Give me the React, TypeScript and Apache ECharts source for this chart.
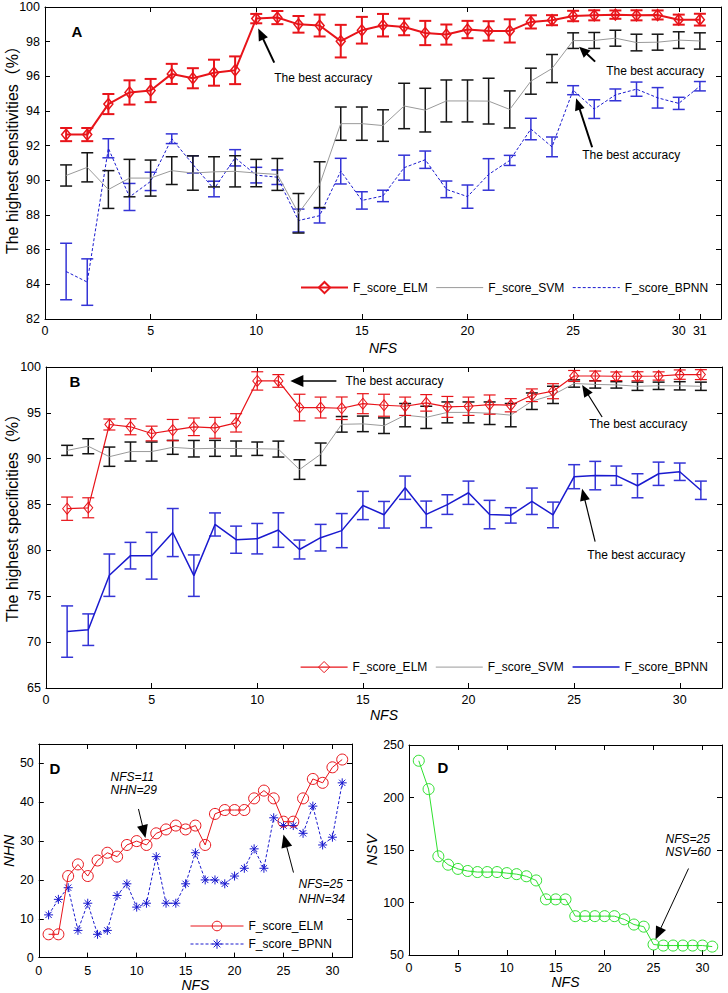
import React, { useEffect, useRef } from "react";
import * as echarts from "echarts";

const NFS = [1, 2, 3, 4, 5, 6, 7, 8, 9, 10, 11, 12, 13, 14, 15, 16, 17, 18, 19, 20, 21, 22, 23, 24, 25, 26, 27, 28, 29, 30, 31];

// Panel A: highest sensitivities (%)
const A_ELM = [92.64, 92.64, 94.4, 95.07, 95.18, 96.14, 95.89, 96.21, 96.35, 99.33, 99.39, 99.0, 98.93, 98.03, 98.66, 98.95, 98.85, 98.5, 98.41, 98.7, 98.62, 98.62, 99.14, 99.24, 99.48, 99.52, 99.56, 99.52, 99.54, 99.27, 99.27];
const A_ELM_ERR = [0.38, 0.38, 0.58, 0.7, 0.67, 0.58, 0.58, 0.75, 0.8, 0.27, 0.38, 0.48, 0.63, 0.94, 0.77, 0.65, 0.48, 0.7, 0.58, 0.5, 0.56, 0.67, 0.38, 0.29, 0.3, 0.29, 0.24, 0.29, 0.26, 0.29, 0.34];
const A_SVM = [90.28, 90.75, 89.47, 90.13, 90.13, 90.56, 90.42, 90.49, 90.52, 90.42, 90.34, 88.1, 89.75, 93.27, 93.27, 93.16, 94.29, 94.05, 94.58, 94.58, 94.57, 94.09, 95.72, 96.45, 98.06, 98.07, 98.2, 97.95, 97.97, 98.09, 98.04];
const A_SVM_ERR = [0.61, 0.84, 1.09, 1.08, 1.04, 0.8, 0.99, 0.87, 0.9, 0.79, 0.92, 1.14, 1.32, 0.96, 0.96, 0.91, 1.31, 1.26, 1.21, 1.21, 1.32, 1.07, 0.75, 0.81, 0.45, 0.46, 0.46, 0.48, 0.46, 0.48, 0.47];
const A_BPNN = [84.74, 84.13, 91.85, 89.04, 89.94, 92.4, 90.92, 89.5, 91.3, 90.3, 90.18, 87.68, 87.96, 90.53, 88.84, 89.1, 90.73, 91.19, 89.48, 89.06, 90.34, 91.15, 92.96, 91.93, 95.2, 94.11, 94.93, 95.26, 94.76, 94.44, 95.43];
const A_BPNN_ERR = [1.63, 1.34, 0.55, 0.78, 0.53, 0.28, 0.5, 0.45, 0.47, 0.45, 0.42, 0.66, 0.42, 0.74, 0.5, 0.33, 0.72, 0.5, 0.48, 0.67, 0.91, 0.29, 0.62, 0.57, 0.26, 0.54, 0.34, 0.41, 0.59, 0.35, 0.27];

// Panel B: highest specificities (%)
const B_ELM = [84.55, 84.65, 93.73, 93.48, 92.75, 93.12, 93.48, 93.37, 93.91, 98.48, 98.48, 95.58, 95.58, 95.5, 96.0, 95.83, 95.72, 96.09, 95.65, 95.72, 95.9, 95.83, 96.92, 97.36, 99.02, 99.02, 98.99, 98.99, 99.02, 99.17, 99.17];
const B_ELM_ERR = [1.27, 1.09, 0.6, 0.87, 0.8, 1.16, 0.96, 1.14, 1.0, 1.0, 0.69, 1.45, 1.14, 1.23, 1.09, 1.2, 1.0, 0.9, 1.14, 1.0, 1.05, 0.72, 0.69, 0.82, 0.6, 0.54, 0.47, 0.49, 0.45, 0.51, 0.54];
const B_SVM = [90.91, 91.36, 90.22, 90.78, 90.78, 91.24, 91.09, 91.13, 91.11, 91.09, 91.05, 88.82, 90.49, 93.75, 93.8, 93.6, 94.75, 94.51, 95.05, 95.05, 94.96, 94.75, 96.27, 96.96, 98.2, 98.1, 98.05, 97.9, 97.95, 97.95, 97.9];
const B_SVM_ERR = [0.55, 0.82, 1.05, 1.04, 1.04, 0.76, 0.9, 0.87, 0.82, 0.73, 0.87, 1.07, 1.22, 0.85, 0.85, 0.85, 1.27, 1.21, 1.14, 1.14, 1.23, 1.27, 0.9, 0.94, 0.4, 0.4, 0.35, 0.45, 0.4, 0.45, 0.45];
const B_BPNN = [71.15, 71.36, 77.3, 79.43, 79.42, 81.95, 77.25, 82.83, 81.17, 81.28, 82.22, 80.1, 81.39, 82.16, 84.9, 83.89, 86.84, 83.93, 85.0, 86.29, 83.91, 83.82, 85.36, 83.87, 88.04, 88.16, 88.15, 87.05, 88.36, 88.58, 86.56];
const B_BPNN_ERR = [2.8, 1.72, 2.31, 1.45, 2.55, 2.62, 2.26, 1.26, 1.48, 1.66, 1.88, 1.03, 1.45, 1.86, 1.54, 1.45, 1.27, 1.45, 1.07, 1.27, 1.55, 0.84, 1.44, 1.4, 1.31, 1.55, 1.05, 1.31, 1.27, 0.95, 1.0];

// Panel D (left): NHN, Panel D (right): NSV
const D_ELM_NHN = [6, 6, 21, 24, 21, 25, 27, 26, 29, 30, 29, 32, 33, 34, 33, 34, 29, 37, 38, 38, 38, 41, 43, 41, 35, 35, 41, 46, 45, 49, 51];
const D_BPNN_NHN = [11, 15, 18, 7, 14, 6, 7, 16, 19, 13, 14, 26, 14, 14, 19, 27, 20, 20, 19, 21, 23, 28, 23, 36, 34, 34, 32, 39, 29, 31, 45];
const D_NSV = [235, 208, 144, 136, 132, 130, 129, 129, 129, 128, 127, 125, 121, 103, 103, 103, 87, 87, 87, 87, 87, 84, 79, 77, 60, 59, 59, 59, 59, 59, 58];

// Tick labels
const X_TICKS_A = [0, 5, 10, 15, 20, 25, 30, 31];
const X_TICKS = [0, 5, 10, 15, 20, 25, 30];
const Y_TICKS_A = [82, 84, 86, 88, 90, 92, 94, 96, 98, 100];
const Y_TICKS_B = [65, 70, 75, 80, 85, 90, 95, 100];
const Y_TICKS_NHN = [0, 10, 20, 30, 40, 50];
const Y_TICKS_NSV = [50, 100, 150, 200, 250];

const RED = "#e8141a";
const BLUE = "#1a1acf";
const BLUE_BAR = "#3434d6";
const BLACK = "#151515";
const GRAY = "#9a9a9a";
const GREEN = "#2fe02f";
const FONT = "'Liberation Sans', Arial, 'Noto Sans CJK SC', sans-serif";
const CLEAR = "rgba(0,0,0,0)";
const STAR = "path://M5,0L5,10M0,5L10,5M1.5,1.5L8.5,8.5M1.5,8.5L8.5,1.5";

const GRIDS = [
  { left: 45, top: 7, width: 676, height: 312 },
  { left: 46, top: 367, width: 676, height: 321 },
  { left: 35, top: 744, width: 317, height: 214 },
  { left: 409, top: 745, width: 313, height: 210 },
];

const pairs = (ys: number[]) => NFS.map((x, i) => [x, ys[i]]);
const triples = (ys: number[], es: number[]) => NFS.map((x, i) => [x, ys[i], es[i]]);

function errorBars(name: string, gi: number, ys: number[], es: number[], color: string, width: number, z: number) {
  return {
    type: "custom",
    name,
    xAxisIndex: gi,
    yAxisIndex: gi,
    z,
    silent: true,
    data: triples(ys, es),
    encode: { x: 0, y: 1 },
    renderItem: (_p: any, api: any) => {
      const x = api.value(0);
      const y = api.value(1);
      const e = api.value(2);
      const t = api.coord([x, y + e]);
      const b = api.coord([x, y - e]);
      const hw = 6;
      const style = { stroke: color, lineWidth: width };
      return {
        type: "group",
        children: [
          { type: "line", shape: { x1: t[0], y1: t[1], x2: b[0], y2: b[1] }, style },
          { type: "line", shape: { x1: t[0] - hw, y1: t[1], x2: t[0] + hw, y2: t[1] }, style },
          { type: "line", shape: { x1: b[0] - hw, y1: b[1], x2: b[0] + hw, y2: b[1] }, style },
        ],
      };
    },
  };
}

function lineSeries(name: string, gi: number, ys: number[], o: any) {
  return {
    type: "line",
    name,
    xAxisIndex: gi,
    yAxisIndex: gi,
    data: pairs(ys),
    z: o.z,
    symbol: o.symbol || "none",
    symbolSize: o.symbolSize || 8,
    showSymbol: !!o.symbol,
    lineStyle: { color: o.color, width: o.width, type: o.type || "solid" },
    itemStyle: o.symbol
      ? { color: CLEAR, borderColor: o.markerColor || o.color, borderWidth: o.borderWidth || 1 }
      : { color: CLEAR, borderWidth: 0 },
    emphasis: { disabled: true },
  };
}

const axisCommon = {
  type: "value",
  axisLine: { show: true, onZero: false, lineStyle: { color: "#000", width: 1 } },
  splitLine: { show: false },
};

function xAxes(gi: number, ticks: number[], max: number, nameGap: number, labelMargin: number) {
  return [
    {
      ...axisCommon,
      gridIndex: gi,
      position: "bottom",
      min: 0,
      max,
      name: "NFS",
      nameLocation: "middle",
      nameGap,
      nameTextStyle: { fontStyle: "italic", fontSize: 14, fontFamily: FONT, color: "#000" },
      axisTick: { show: true, inside: true, length: 5, customValues: ticks, lineStyle: { color: "#000" } },
      axisLabel: { customValues: ticks, margin: labelMargin, color: "#000", fontSize: 12.5, fontFamily: FONT },
    },
    {
      ...axisCommon,
      gridIndex: gi,
      position: "top",
      min: 0,
      max,
      axisTick: { show: true, inside: true, length: 5, customValues: ticks, lineStyle: { color: "#000" } },
      axisLabel: { show: false },
    },
  ];
}

function yAxes(gi: number, ticks: number[], min: number, max: number, name: string, nameGap: number) {
  return [
    {
      ...axisCommon,
      gridIndex: gi,
      position: "left",
      min,
      max,
      name,
      nameLocation: "middle",
      nameGap,
      nameTextStyle: { fontStyle: "italic", fontSize: 15, fontFamily: FONT, color: "#000" },
      axisTick: { show: true, inside: true, length: 5, customValues: ticks, lineStyle: { color: "#000" } },
      axisLabel: { customValues: ticks, margin: 5, color: "#000", fontSize: 12.5, fontFamily: FONT },
    },
    {
      ...axisCommon,
      gridIndex: gi,
      position: "right",
      min,
      max,
      axisTick: { show: true, inside: true, length: 5, customValues: ticks, lineStyle: { color: "#000" } },
      axisLabel: { show: false },
    },
  ];
}

const legendText = (n: string) => n.split(":")[1];

function buildOption(): any {
  const xa = [
    xAxes(0, X_TICKS_A, 32, 22, 6),
    xAxes(1, X_TICKS, 32, 20, 6),
    xAxes(2, X_TICKS, 32, 18, 7),
    xAxes(3, X_TICKS, 32, 20, 7),
  ];
  const ya = [
    yAxes(0, Y_TICKS_A, 82, 100, "", 30),
    yAxes(1, Y_TICKS_B, 65, 100, "", 30),
    yAxes(2, Y_TICKS_NHN, 0, 55, "NHN", 17),
    yAxes(3, Y_TICKS_NSV, 50, 250, "NSV", 25),
  ];
  return {
    animation: false,
    backgroundColor: "#fff",
    grid: GRIDS,
    xAxis: [...xa.map((a) => a[0]), ...xa.map((a) => a[1])],
    yAxis: [...ya.map((a) => a[0]), ...ya.map((a) => a[1])],
    legend: [
      {
        left: 295, top: 276, itemWidth: 47, itemHeight: 14, itemGap: 8, selectedMode: false,
        formatter: legendText, textStyle: { fontSize: 12, fontFamily: FONT, color: "#000" },
        data: [
          { name: "A:F_score_ELM" },
          { name: "A:F_score_SVM", lineStyle: { width: 1 } },
          { name: "A:F_score_BPNN", lineStyle: { width: 1 } },
        ],
      },
      {
        left: 295, top: 656, itemWidth: 47, itemHeight: 14, itemGap: 8, selectedMode: false,
        formatter: legendText, textStyle: { fontSize: 12, fontFamily: FONT, color: "#000" },
        data: [
          { name: "B:F_score_ELM", lineStyle: { width: 1.2 }, itemStyle: { borderWidth: 1 } },
          { name: "B:F_score_SVM", lineStyle: { width: 1 } },
          { name: "B:F_score_BPNN", lineStyle: { width: 1.5 } },
        ],
      },
      {
        left: 185, top: 915, orient: "vertical", itemWidth: 53, itemHeight: 12, itemGap: 6, selectedMode: false,
        formatter: legendText, textStyle: { fontSize: 12, fontFamily: FONT, color: "#000" },
        data: [
          { name: "D:F_score_ELM", lineStyle: { width: 1 }, itemStyle: { borderWidth: 1 } },
          { name: "D:F_score_BPNN", lineStyle: { width: 1 }, itemStyle: { borderWidth: 1 } },
        ],
      },
    ],
    series: [
      // Panel A
      errorBars("errA_BPNN", 0, A_BPNN, A_BPNN_ERR, BLUE_BAR, 1.5, 2),
      lineSeries("A:F_score_BPNN", 0, A_BPNN, { color: BLUE, width: 1, type: [3, 2], z: 3 }),
      errorBars("errA_SVM", 0, A_SVM, A_SVM_ERR, BLACK, 1.5, 4),
      lineSeries("A:F_score_SVM", 0, A_SVM, { color: GRAY, width: 1, z: 4 }),
      lineSeries("A:F_score_ELM", 0, A_ELM, { color: RED, width: 2, symbol: "diamond", symbolSize: [9, 11], borderWidth: 1.5, z: 6 }),
      errorBars("errA_ELM", 0, A_ELM, A_ELM_ERR, RED, 2, 7),
      // Panel B
      errorBars("errB_BPNN", 1, B_BPNN, B_BPNN_ERR, BLUE_BAR, 1.5, 2),
      lineSeries("B:F_score_BPNN", 1, B_BPNN, { color: BLUE, width: 1.5, z: 3 }),
      errorBars("errB_SVM", 1, B_SVM, B_SVM_ERR, BLACK, 1.5, 4),
      lineSeries("B:F_score_SVM", 1, B_SVM, { color: GRAY, width: 1, z: 4 }),
      lineSeries("B:F_score_ELM", 1, B_ELM, { color: RED, width: 1.2, symbol: "diamond", symbolSize: [9, 11], borderWidth: 1, z: 6 }),
      errorBars("errB_ELM", 1, B_ELM, B_ELM_ERR, RED, 1.2, 7),
      // Panel D left
      lineSeries("D:F_score_ELM", 2, D_ELM_NHN, { color: RED, width: 1, symbol: "circle", symbolSize: 11, borderWidth: 1, z: 4 }),
      lineSeries("D:F_score_BPNN", 2, D_BPNN_NHN, { color: BLUE, width: 1, type: [3, 2], symbol: STAR, symbolSize: 9, borderWidth: 1, z: 3 }),
      // Panel D right
      lineSeries("D:NSV", 3, D_NSV, { color: GREEN, width: 1, symbol: "circle", symbolSize: 11, borderWidth: 1, z: 3 }),
    ],
  };
}

// Annotation arrows, positioned relative to the data point they point at
const ANNOTATIONS = [
  { g: 0, at: [10, A_ELM[9]], head: [2, 10], tail: [18, 44], lw: 2, hl: 12, hw: 5, texts: [{ t: "The best accuracy", d: [18, 59] }] },
  { g: 0, at: [25, A_SVM[24]], head: [6, 6], tail: [22, 21], lw: 2, hl: 11, hw: 5, texts: [{ t: "The best accuracy", d: [33, 30] }] },
  { g: 0, at: [25, A_BPNN[24]], head: [3, 8], tail: [19, 57], lw: 2, hl: 12, hw: 5, texts: [{ t: "The best accuracy", d: [9, 65] }] },
  { g: 1, at: [11, B_ELM[10]], head: [12, 0], tail: [58, 0], lw: 1.5, hl: 13, hw: 6, texts: [{ t: "The best accuracy", d: [67, 0] }] },
  { g: 1, at: [25, B_ELM[24]], head: [8, 9], tail: [28, 41], lw: 1.2, hl: 12, hw: 5, texts: [{ t: "The best accuracy", d: [15, 48] }] },
  { g: 1, at: [25, B_BPNN[24]], head: [8, 12], tail: [21, 65], lw: 1.2, hl: 12, hw: 5, texts: [{ t: "The best accuracy", d: [13, 78] }] },
  {
    g: 2, at: [11, D_ELM_NHN[10]], head: [-1, -7], tail: [-8, -36], lw: 1, hl: 13, hw: 5.5, italic: true,
    texts: [{ t: "NFS=11", d: [-36, -68] }, { t: "NHN=29", d: [-36, -55] }],
  },
  {
    g: 2, at: [25, D_BPNN_NHN[24]], head: [0, 9], tail: [10, 47], lw: 1, hl: 13, hw: 5.5, italic: true,
    texts: [{ t: "NFS=25", d: [15, 58] }, { t: "NHN=34", d: [15, 73] }],
  },
  {
    g: 3, at: [25, D_NSV[24]], head: [2, -5], tail: [35, -76], lw: 1, hl: 13, hw: 5.5, italic: true,
    texts: [{ t: "NFS=25", d: [12, -106] }, { t: "NSV=60", d: [12, -93] }],
  },
];

function arrow(H: number[], T: number[], lw: number, hl: number, hw: number) {
  const dx = H[0] - T[0];
  const dy = H[1] - T[1];
  const len = Math.hypot(dx, dy) || 1;
  const ux = dx / len;
  const uy = dy / len;
  const bx = H[0] - ux * hl;
  const by = H[1] - uy * hl;
  const nx = -uy;
  const ny = ux;
  return [
    { type: "line", silent: true, shape: { x1: T[0], y1: T[1], x2: bx + ux * 2, y2: by + uy * 2 }, style: { stroke: "#000", lineWidth: lw } },
    {
      type: "polygon",
      silent: true,
      shape: { points: [[H[0], H[1]], [bx + nx * hw, by + ny * hw], [bx - nx * hw, by - ny * hw]] },
      style: { fill: "#000" },
    },
  ];
}

function txt(text: string, x: number, y: number, o: any = {}) {
  return {
    type: "text",
    silent: true,
    x,
    y,
    rotation: o.rotation || 0,
    style: {
      text,
      fill: "#000",
      fontSize: o.fontSize || 12,
      fontFamily: FONT,
      fontStyle: o.italic ? "italic" : "normal",
      fontWeight: o.bold ? "bold" : "normal",
      align: o.align || "left",
      verticalAlign: "middle",
    },
  };
}

function buildGraphics(chart: any) {
  const els: any[] = [];
  // y axis titles of panels A and B
  els.push(txt("The highest sensitivities（%）", 12, 146, { fontSize: 16, align: "center", rotation: Math.PI / 2 }));
  els.push(txt("The highest specificities（%）", 12, 514, { fontSize: 16, align: "center", rotation: Math.PI / 2 }));
  // panel letters
  els.push(txt("A", 77, 31, { fontSize: 15, bold: true, align: "center" }));
  els.push(txt("B", 75, 381, { fontSize: 15, bold: true, align: "center" }));
  els.push(txt("D", 55, 768, { fontSize: 15, bold: true, align: "center" }));
  els.push(txt("D", 443, 767, { fontSize: 15, bold: true, align: "center" }));
  for (const a of ANNOTATIONS) {
    const p = chart.convertToPixel({ xAxisIndex: a.g, yAxisIndex: a.g }, a.at);
    const H = [p[0] + a.head[0], p[1] + a.head[1]];
    const T = [p[0] + a.tail[0], p[1] + a.tail[1]];
    els.push(...arrow(H, T, a.lw, a.hl, a.hw));
    for (const t of a.texts) {
      els.push(txt(t.t, p[0] + t.d[0], p[1] + t.d[1], { italic: (a as any).italic }));
    }
  }
  return els;
}

export default function App() {
  const ref = useRef<HTMLDivElement>(null);
  useEffect(() => {
    const chart = echarts.init(ref.current as HTMLDivElement, null, { renderer: "svg" });
    chart.setOption(buildOption());
    chart.setOption({ graphic: { elements: buildGraphics(chart) } });
    return () => chart.dispose();
  }, []);
  return (
    <div
      ref={ref}
      style={{ position: "fixed", left: 0, top: 0, width: 728, height: 993, background: "#fff" }}
    />
  );
}
